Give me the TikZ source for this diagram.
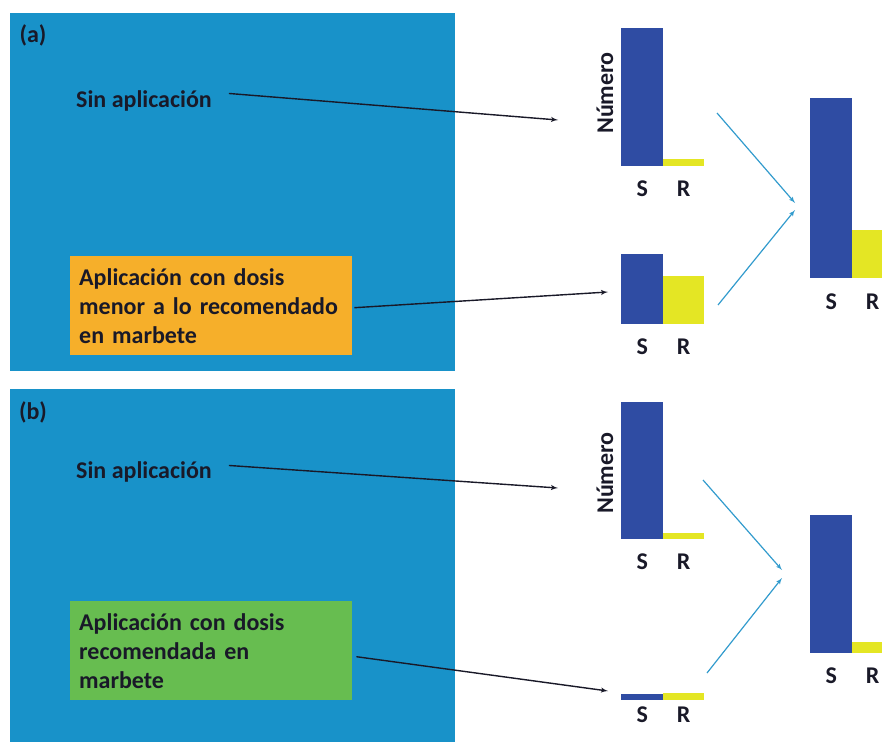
\documentclass[tikz,border=0pt]{standalone}
\usepackage{fontspec}
\setmainfont{Carlito}
\usepackage{tikz}
\usetikzlibrary{arrows,calc,positioning}
\usepackage{xcolor}
\definecolor{panelblue}{RGB}{24,146,201}
\definecolor{dosisorange}{RGB}{246,175,42}
\definecolor{dosisgreen}{RGB}{103,189,80}
\definecolor{barblue}{RGB}{47,76,163}
\definecolor{baryellow}{RGB}{228,230,36}
\definecolor{mergecyan}{RGB}{50,155,205}
\definecolor{textdark}{RGB}{25,25,40}
\tikzstyle{panel} = [rectangle, fill=panelblue, inner sep=0pt, anchor=north west, minimum width=445pt]
\tikzstyle{txt} = [font=\fontsize{24}{29}\selectfont\bfseries, text=textdark, inner sep=0pt]
\tikzstyle{dosebox} = [rectangle, txt, text width=264pt, inner xsep=9pt, %
minimum height=99pt, align=left, anchor=north west]
\tikzstyle{sbar} = [rectangle, fill=barblue, inner sep=0pt, minimum width=42pt, anchor=south west]
\tikzstyle{rbar} = [sbar, fill=baryellow, minimum width=41pt]
\tikzstyle{arrow} = [draw, line width=1.4pt, textdark, -latex']
\tikzstyle{merge} = [draw, line width=1.2pt, mergecyan, -latex']

\begin{document}
\begin{tikzpicture}[x=1pt, y=-1pt]
    \clip (0,0) rectangle (882,741);
    \useasboundingbox (0,0) rectangle (882,741);
    % panels
    \node[panel, minimum height=358pt] (panelA) at (10,13) {};
    \node[panel, minimum height=360pt] (panelB) at (10,389) {};
    \node[txt] (tagA) at (33,35) {(a)};
    \node[txt] (tagB) at (33,412) {(b)};
    \node[txt, anchor=base west] (sinA) at (76,107) {Sin aplicación};
    \node[txt, anchor=base west] (sinB) at (76,478) {Sin aplicación};
    \node[dosebox, fill=dosisorange] (doseA) at (70,256) {Aplicación con dosis\\menor a lo recomendado\\en marbete};
    \node[dosebox, fill=dosisgreen] (doseB) at (70,601) {Aplicación con dosis\\recomendada en\\marbete};
    % bars (a)
    \node[sbar, minimum height=138pt] (a1s) at (621,166) {};
    \node[rbar, minimum height=7pt] (a1r) at (663,166) {};
    \node[sbar, minimum height=70pt] (a2s) at (621,324) {};
    \node[rbar, minimum height=48pt] (a2r) at (663,324) {};
    \node[sbar, minimum height=180pt] (a3s) at (810,278) {};
    \node[rbar, minimum height=48pt] (a3r) at (852,278) {};
    % bars (b)
    \node[sbar, minimum height=137pt] (b1s) at (621,539) {};
    \node[rbar, minimum height=6pt] (b1r) at (663,539) {};
    \node[sbar, minimum height=6pt] (b2s) at (621,700) {};
    \node[rbar, minimum height=7pt] (b2r) at (663,700) {};
    \node[sbar, minimum height=138pt] (b3s) at (810,653) {};
    \node[rbar, minimum height=11pt] (b3r) at (852,653) {};
    % axis labels
    \node[txt, rotate=90] (numA) at (605,93) {Número};
    \node[txt, rotate=90] (numB) at (605,473) {Número};
    \foreach \b/\g in {a1/15pt, a2/15pt, a3/16pt, b1/15pt, b2/7pt, b3/15pt} {
        \node[txt, below=\g of \b s] (\b sl) {S};
        \node[txt, below=\g of \b r] (\b rl) {R};
    }
    % arrow ends
    \coordinate (inA1) at (558,120);
    \coordinate (inA2) at (608,292);
    \coordinate (inB1) at (558,488);
    \coordinate (inB2) at (608,691);
    \coordinate (outA1) at (717,113);
    \coordinate (outA2) at (718,305);
    \coordinate (joinA1) at (795,203);
    \coordinate (joinA2) at (795,210);
    \coordinate (outB1) at (703,480);
    \coordinate (outB2) at (707,673);
    \coordinate (joinB1) at (782,570);
    \coordinate (joinB2) at (782,578);
    % draw arrows
    \path[arrow] ($(sinA.east)+(17,-7)$) -- (inA1);
    \path[arrow] ($(doseA.east)+(2,2)$) -- (inA2);
    \path[arrow] ($(sinB.east)+(17,-6)$) -- (inB1);
    \path[arrow] ($(doseB.east)+(4,6)$) -- (inB2);
    \path[merge] (outA1) -- (joinA1);
    \path[merge] (outA2) -- (joinA2);
    \path[merge] (outB1) -- (joinB1);
    \path[merge] (outB2) -- (joinB2);
\end{tikzpicture}
\end{document}
